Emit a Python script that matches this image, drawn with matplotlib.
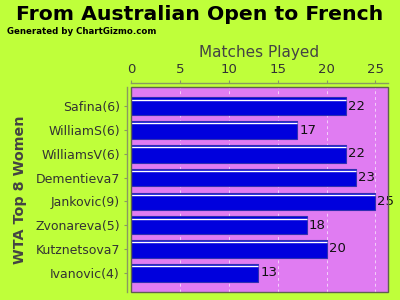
import numpy as np
import matplotlib.pyplot as plt
from matplotlib.patches import Rectangle

players = ["Safina(6)", "WilliamS(6)", "WilliamsV(6)", "Dementieva7",
           "Jankovic(9)", "Zvonareva(5)", "Kutznetsova7", "Ivanovic(4)"]
matches = [22, 17, 22, 23, 25, 18, 20, 13]
xticks = [0, 5, 10, 15, 20, 25]

bg = "#BFFF3A"
plotbg = "#E07CF2"
bar_color = "#0000DD"

fig = plt.figure(figsize=(4, 3), dpi=100)
fig.patch.set_facecolor(bg)
ax = fig.add_axes([131/400, 1-292/300, 257/400, 205/300])
ax.set_facecolor(plotbg)

y = np.arange(len(players))
h = 0.74
ax.barh(y, matches, height=h, color=bar_color, edgecolor="#3030B0", linewidth=0.8, zorder=3)
# white highlight near the top of each bar
ax.hlines(y - h/2 + 0.09, 0, matches, color="white", linewidth=1.0, zorder=4)

for yi, v in zip(y, matches):
    ax.text(v + 0.2, yi, str(v), va="center", ha="left", fontsize=9.5, color="#111111", zorder=5)

ax.set_xlim(0, 26.28)
ax.set_ylim(7.81, -0.81)
ax.set_xticks(xticks)
ax.set_yticks(y)
ax.set_yticklabels(players)
ax.xaxis.tick_top()
ax.xaxis.set_label_position("top")
ax.tick_params(axis="x", length=2, width=0.8, color="#8A9A60", labelsize=9.5, labelcolor="#333333", pad=3)
ax.tick_params(axis="y", length=2, width=0.8, color="#8A9A60", labelsize=9, labelcolor="#333333", pad=3)
ax.grid(axis="x", color="#F4D0FA", linestyle=(0, (3, 3)), linewidth=0.7, zorder=1)

for s in ["right", "bottom"]:
    ax.spines[s].set_visible(False)
for s in ["top", "left"]:
    ax.spines[s].set_position(("outward", 3))
    ax.spines[s].set_color("#8A9A60")
    ax.spines[s].set_linewidth(1)

# plot frame
ax.add_patch(Rectangle((0, 0), 1, 1, transform=ax.transAxes, fill=False,
                       edgecolor="#606050", linewidth=1.0, zorder=6, clip_on=False))

ax.set_xlabel("Matches Played", fontsize=11, color="#444444", labelpad=4)
ax.set_ylabel("WTA Top 8 Women", fontsize=10.3, color="#444444", fontweight="bold", labelpad=6)

fig.text(0.5, 1-14/300, "From Australian Open to French", ha="center", va="center",
         fontsize=14.7, fontweight="bold", color="black")
fig.text(7/400, 1-31/300, "Generated by ChartGizmo.com", ha="left", va="center",
         fontsize=6.2, fontweight="bold", color="black")

fig.savefig("out.png", dpi=100, facecolor=bg)
